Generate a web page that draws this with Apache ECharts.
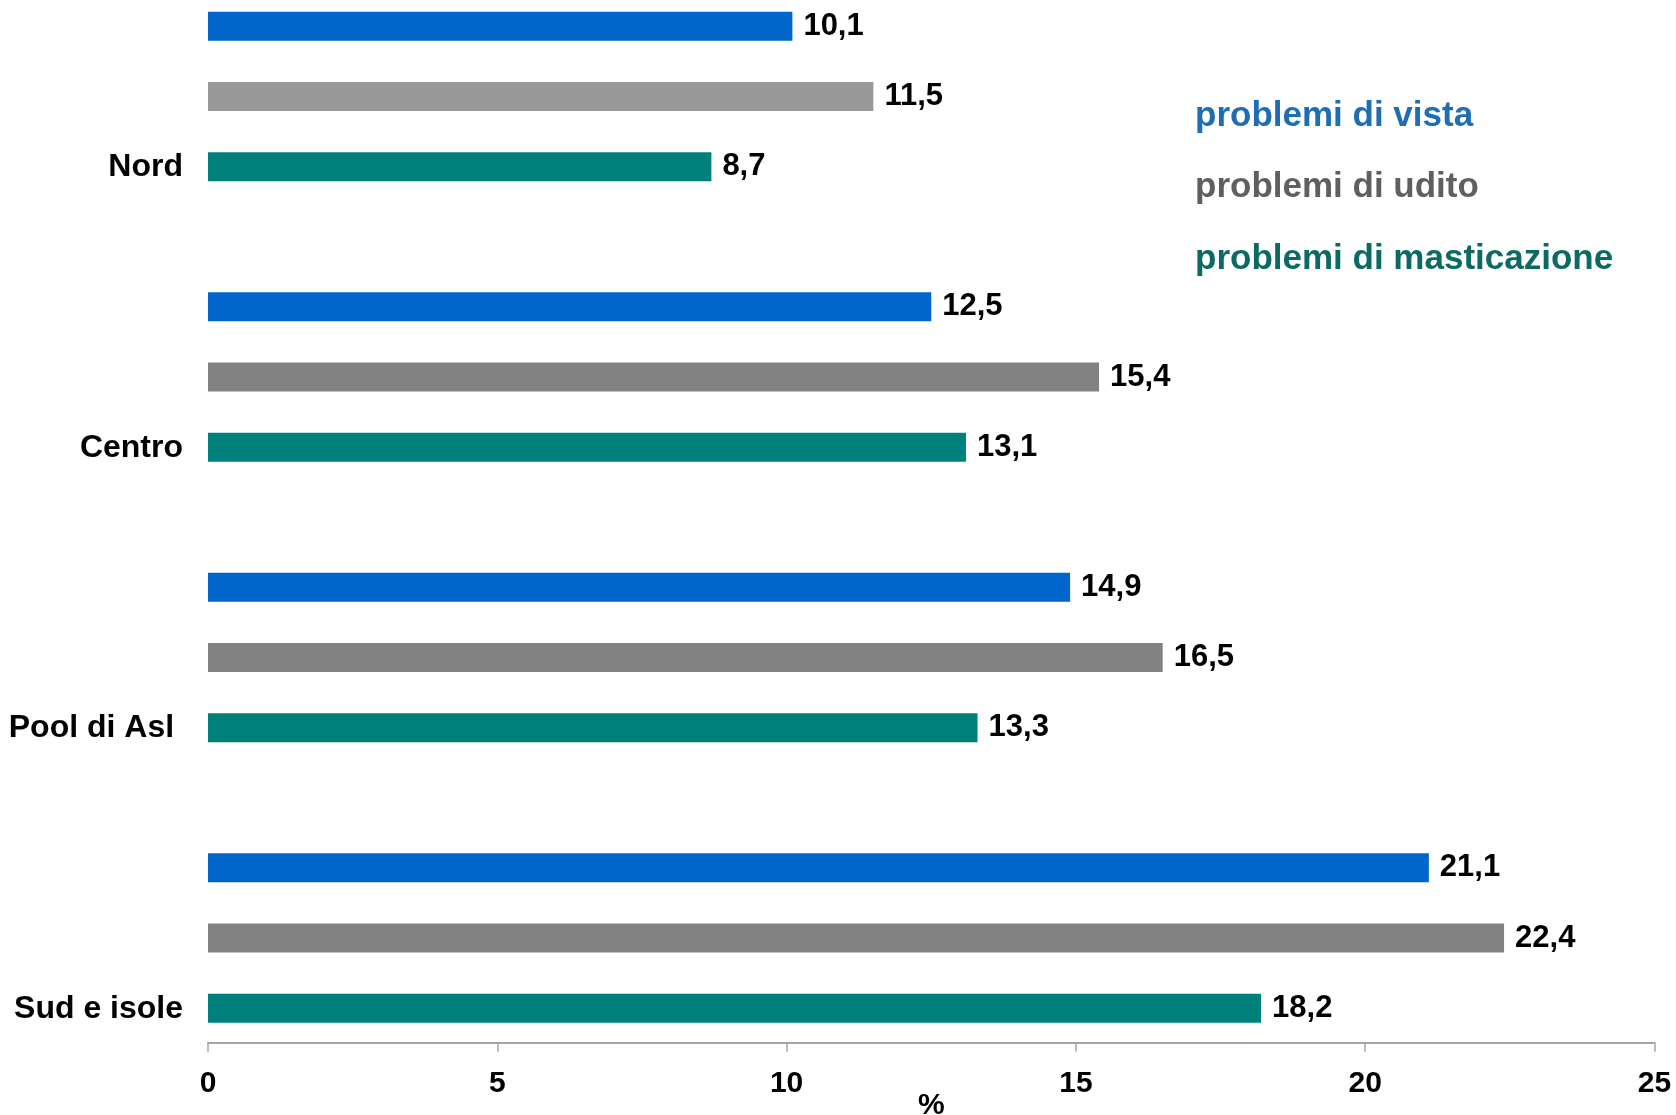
<!DOCTYPE html>
<html>
<head>
<meta charset="utf-8">
<script src="https://cdn.jsdelivr.net/npm/echarts@6/dist/echarts.min.js"></script>
<style>
  html, body { margin: 0; padding: 0; background: #ffffff; }
  #chart { width: 1676px; height: 1115px; }
</style>
</head>
<body>
<div id="chart"></div>
<script>
// Regions (top to bottom)
const categories = ['Nord', 'Centro', 'Pool di Asl ', 'Sud e isole'];

// Percentages per region
const vista = [10.1, 12.5, 14.9, 21.1];
const udito = [11.5, 15.4, 16.5, 22.4];
const masticazione = [8.7, 13.1, 13.3, 18.2];

const seriesNames = ['problemi di vista', 'problemi di udito', 'problemi di masticazione'];

// Value axis ticks
const xTicks = { min: 0, max: 25, interval: 5 };

const FONT = '"Liberation Sans", Arial, sans-serif';
const legendColors = ['#1e6db5', '#5f5f5f', '#0b6b62'];

const fmt = v => String(v).replace('.', ',');

const valueLabel = {
  show: true,
  position: 'right',
  distance: 11,
  color: '#000000',
  fontFamily: FONT,
  fontWeight: 'bold',
  fontSize: 31,
  formatter: p => fmt(p.value)
};

const chart = echarts.init(document.getElementById('chart'), null, { renderer: 'canvas' });

chart.setOption({
  backgroundColor: '#ffffff',
  animation: false,
  legend: {
    orient: 'vertical',
    left: 1190,
    top: 96,
    padding: 0,
    icon: 'none',
    itemWidth: 0,
    itemHeight: 40,
    itemGap: 31.5,
    selectedMode: false,
    textStyle: {
      fontFamily: FONT,
      fontWeight: 'bold',
      fontSize: 35,
      lineHeight: 40
    },
    data: seriesNames.map((n, i) => ({ name: n, textStyle: { color: legendColors[i] } }))
  },
  grid: {
    left: 208,
    right: 21.5,
    top: -43.75,
    bottom: 36.75,
    containLabel: false,
    outerBoundsMode: 'none'
  },
  xAxis: {
    type: 'value',
    min: xTicks.min,
    max: xTicks.max,
    interval: xTicks.interval,
    offset: -35.5,
    name: '%',
    nameLocation: 'middle',
    nameGap: 48,
    nameMoveOverlap: false,
    nameTextStyle: {
      color: '#000000',
      fontFamily: FONT,
      fontWeight: 'bold',
      fontSize: 30,
      verticalAlign: 'top'
    },
    axisLine: { show: true, lineStyle: { color: '#a6a6a6', width: 2 } },
    axisTick: { show: true, length: 9, lineStyle: { color: '#a6a6a6', width: 1.5 } },
    axisLabel: {
      margin: 26,
      color: '#000000',
      fontFamily: FONT,
      fontWeight: 'bold',
      fontSize: 30
    },
    splitLine: { show: false }
  },
  yAxis: {
    type: 'category',
    inverse: true,
    data: categories,
    axisLine: { show: false },
    axisTick: { show: false },
    axisLabel: {
      interval: 0,
      margin: 25,
      color: '#000000',
      fontFamily: FONT,
      fontWeight: 'bold',
      fontSize: 32,
      lineHeight: 71,
      verticalAlign: 'middle',
      // region name sits level with the last bar of its group
      formatter: v => '\n\n' + v
    },
    splitLine: { show: false }
  },
  series: [
    {
      name: seriesNames[0],
      type: 'bar',
      data: vista,
      barWidth: 29,
      barGap: '142%',
      itemStyle: { color: '#0066cc' },
      label: valueLabel
    },
    {
      name: seriesNames[1],
      type: 'bar',
      data: udito,
      barWidth: 29,
      barGap: '142%',
      itemStyle: { color: p => (p.dataIndex === 0 ? '#999999' : '#828282') },
      label: valueLabel
    },
    {
      name: seriesNames[2],
      type: 'bar',
      data: masticazione,
      barWidth: 29,
      barGap: '142%',
      itemStyle: { color: '#00807a' },
      label: valueLabel
    }
  ]
});
</script>
</body>
</html>
